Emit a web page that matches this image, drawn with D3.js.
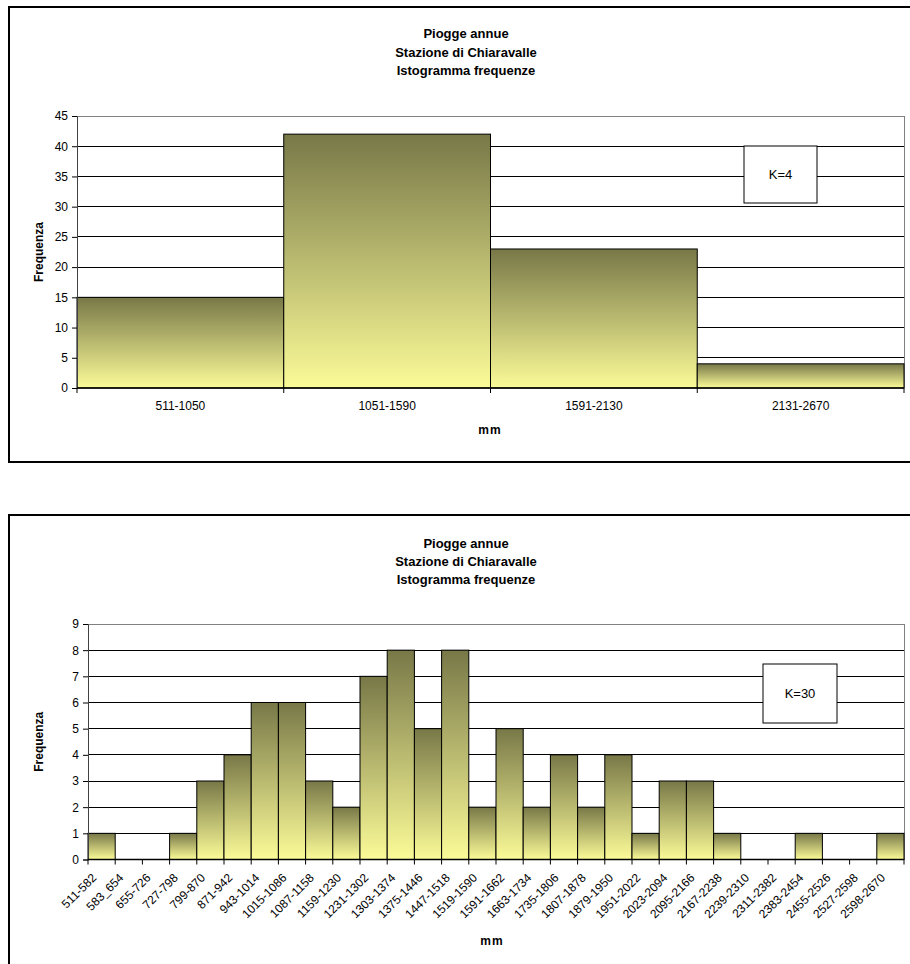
<!DOCTYPE html>
<html>
<head>
<meta charset="utf-8">
<script src="https://cdn.jsdelivr.net/npm/d3@7"></script>
<style>
  html, body { margin: 0; padding: 0; background: #fff; }
  svg { display: block; font-family: Arial, "Liberation Sans", sans-serif; }
</style>
</head>
<body>
<svg id="chart" width="910" height="964"></svg>
<script>
// Annual rainfall at Chiaravalle: frequency histograms with 4 and 30 classes
const titleLines = ["Piogge annue", "Stazione di Chiaravalle", "Istogramma frequenze"];

const classesK4 = ["511-1050", "1051-1590", "1591-2130", "2131-2670"];
const countsK4 = [15, 42, 23, 4];
const yTicksK4 = [0, 5, 10, 15, 20, 25, 30, 35, 40, 45];

const classesK30 = [
  "511-582", "583_654", "655-726", "727-798", "799-870", "871-942", "943-1014",
  "1015-1086", "1087-1158", "1159-1230", "1231-1302", "1303-1374", "1375-1446",
  "1447-1518", "1519-1590", "1591-1662", "1663-1734", "1735-1806", "1807-1878",
  "1879-1950", "1951-2022", "2023-2094", "2095-2166", "2167-2238", "2239-2310",
  "2311-2382", "2383-2454", "2455-2526", "2527-2598", "2598-2670"
];
const countsK30 = [1, 0, 0, 1, 3, 4, 6, 6, 3, 2, 7, 8, 5, 8, 2, 5, 2, 4, 2, 4, 1, 3, 3, 1, 0, 0, 1, 0, 0, 1];
const yTicksK30 = [0, 1, 2, 3, 4, 5, 6, 7, 8, 9];

const svg = d3.select("#chart");

// shared vertical gradient for the bars: dark olive on top, pale yellow at the base
const defs = svg.append("defs");
const grad = defs.append("linearGradient")
  .attr("id", "barFill").attr("x1", 0).attr("y1", 0).attr("x2", 0).attr("y2", 1);
grad.append("stop").attr("offset", "0%").attr("stop-color", "#787848");
grad.append("stop").attr("offset", "100%").attr("stop-color", "#fbfb98");

function drawHistogram(cfg) {
  const g = svg.append("g");

  // chart frame
  g.append("path")
    .attr("d", cfg.framePath)
    .attr("fill", "none").attr("stroke", "#000").attr("stroke-width", 2);

  // title
  titleLines.forEach((t, i) => {
    g.append("text")
      .attr("x", cfg.titleX).attr("y", cfg.titleY[i])
      .attr("text-anchor", "middle")
      .attr("font-size", 13).attr("font-weight", "bold")
      .attr("fill", "#000")
      .text(t);
  });

  const x = d3.scaleBand().domain(cfg.classes).range([cfg.left, cfg.right]).padding(0);
  const y = d3.scaleLinear().domain([0, cfg.yMax]).range([cfg.bottom, cfg.top]);

  // gridlines (top value doubles as the plot-area border)
  g.append("g").selectAll("line")
    .data(cfg.yTicks.filter(v => v > 0))
    .join("line")
    .attr("x1", cfg.left).attr("x2", cfg.right)
    .attr("y1", d => y(d)).attr("y2", d => y(d))
    .attr("stroke", d => d === cfg.yMax ? "#808080" : "#000")
    .attr("stroke-width", 1)
    .attr("shape-rendering", "crispEdges");

  // right border of the plot area
  g.append("line")
    .attr("x1", cfg.right).attr("x2", cfg.right)
    .attr("y1", cfg.top).attr("y2", cfg.bottom)
    .attr("stroke", "#808080").attr("shape-rendering", "crispEdges");

  // bars
  const data = cfg.classes.map((c, i) => ({ c, v: cfg.counts[i] }));
  g.append("g").selectAll("rect")
    .data(data.filter(d => d.v > 0))
    .join("rect")
    .attr("x", d => x(d.c))
    .attr("y", d => y(d.v))
    .attr("width", x.bandwidth())
    .attr("height", d => y(0) - y(d.v))
    .attr("fill", "url(#barFill)")
    .attr("stroke", "#000").attr("stroke-width", 1);

  // y axis
  const yAxis = d3.axisLeft(y).tickValues(cfg.yTicks).tickSize(5).tickPadding(4).tickFormat(d3.format("d"));
  const ya = g.append("g").attr("transform", `translate(${cfg.left},0)`).call(yAxis);
  ya.select(".domain").attr("stroke", "#404040");
  ya.selectAll(".tick line").attr("stroke", "#000");
  ya.selectAll(".tick text").attr("font-size", 12).attr("font-family", null).attr("fill", "#000");

  // x axis line and ticks at class boundaries
  g.append("line")
    .attr("x1", cfg.left).attr("x2", cfg.right)
    .attr("y1", cfg.bottom).attr("y2", cfg.bottom)
    .attr("stroke", "#000").attr("stroke-width", 1.5);
  const edges = cfg.classes.map(c => x(c)).concat([cfg.right]);
  g.append("g").selectAll("line")
    .data(edges)
    .join("line")
    .attr("x1", d => d).attr("x2", d => d)
    .attr("y1", cfg.bottom).attr("y2", cfg.bottom + 5)
    .attr("stroke", "#000");

  // category labels
  const lbl = g.append("g").selectAll("text").data(cfg.classes).join("text")
    .attr("font-size", 12).attr("fill", "#000").text(d => d);
  if (cfg.rotate) {
    lbl.attr("text-anchor", "end")
      .attr("transform", d => `translate(${x(d) + x.bandwidth() / 2 - 4.5},${cfg.bottom + 19}) rotate(-45)`);
  } else {
    lbl.attr("text-anchor", "middle")
      .attr("x", d => x(d) + x.bandwidth() / 2)
      .attr("y", cfg.bottom + 22);
  }

  // axis titles
  g.append("text")
    .attr("x", cfg.xTitle[0]).attr("y", cfg.xTitle[1])
    .attr("text-anchor", "middle")
    .attr("font-size", 12).attr("font-weight", "bold").attr("letter-spacing", 1)
    .text("mm");
  g.append("text")
    .attr("transform", `translate(${cfg.yTitleX},${(cfg.top + cfg.bottom) / 2}) rotate(-90)`)
    .attr("text-anchor", "middle")
    .attr("dy", "0.35em")
    .attr("font-size", 12).attr("font-weight", "bold")
    .text("Frequenza");

  // K label box
  const b = cfg.kBox;
  g.append("rect")
    .attr("x", b.x).attr("y", b.y).attr("width", b.w).attr("height", b.h)
    .attr("fill", "#fff").attr("stroke", "#000").attr("stroke-width", 1);
  g.append("text")
    .attr("x", b.x + b.w / 2).attr("y", b.y + b.h / 2)
    .attr("dy", "0.35em")
    .attr("text-anchor", "middle")
    .attr("font-size", 13)
    .text(b.label);
}

drawHistogram({
  framePath: "M913,7 H9 V462 H913",
  titleX: 466, titleY: [38, 57, 75],
  classes: classesK4, counts: countsK4, yTicks: yTicksK4, yMax: 45,
  left: 77, right: 904, top: 116, bottom: 388,
  rotate: false,
  xTitle: [490, 434], yTitleX: 39,
  kBox: { x: 744, y: 146, w: 73, h: 57, label: "K=4" }
});

drawHistogram({
  framePath: "M913,515 H9 V966",
  titleX: 466, titleY: [548, 566, 584],
  classes: classesK30, counts: countsK30, yTicks: yTicksK30, yMax: 9,
  left: 88, right: 904, top: 624, bottom: 859.5,
  rotate: true,
  xTitle: [492, 945], yTitleX: 39,
  kBox: { x: 763, y: 664, w: 74, h: 59, label: "K=30" }
});
</script>
</body>
</html>
